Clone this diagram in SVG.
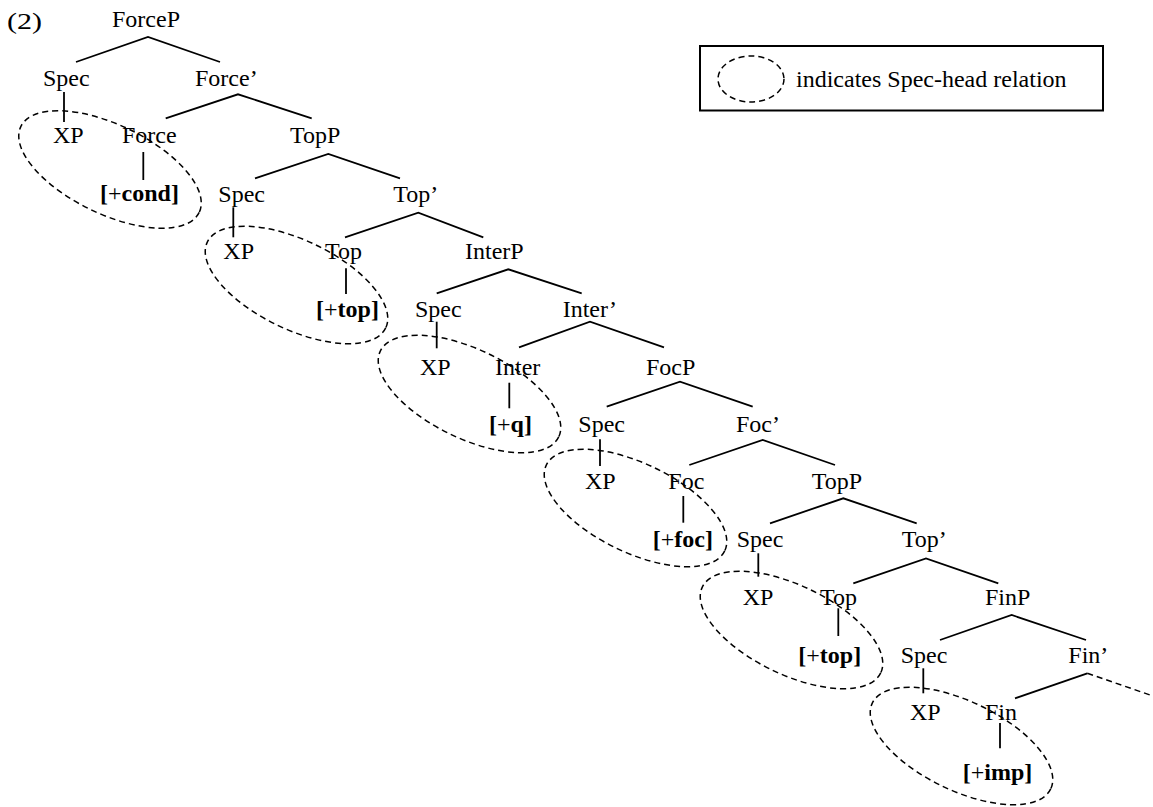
<svg xmlns="http://www.w3.org/2000/svg" width="1153" height="807" viewBox="0 0 1153 807">
<style>
text{font-family:"Liberation Serif","Times New Roman",serif;font-size:24px;fill:#000}
.b{font-weight:bold}
.l{stroke:#000;stroke-width:1.8;fill:none}
.d{stroke:#000;stroke-width:1.5;fill:none;stroke-dasharray:6 4}
.box{stroke:#000;stroke-width:2;fill:none}
</style>
<rect width="1153" height="807" fill="#fff"/>
<text x="7" y="29" font-size="25" textLength="35" lengthAdjust="spacingAndGlyphs">(2)</text>
<g id="connectors">
<polyline class="l" points="76,62 148,37 220,62"/>
<line class="l" x1="64" y1="92" x2="64" y2="122"/>
<polyline class="l" points="165.7,118.3 238,94.3 311.7,118.3"/>
<line class="l" x1="143.3" y1="152" x2="143.3" y2="180"/>
<polyline class="l" points="255,178.3 328.3,154 400,178.3"/>
<line class="l" x1="233.3" y1="207.3" x2="233.3" y2="237.3"/>
<polyline class="l" points="345,237.3 418.3,212.7 483.3,237.3"/>
<line class="l" x1="346" y1="268.3" x2="346" y2="294"/>
<polyline class="l" points="436.7,293.3 508.3,269.3 581.7,293.3"/>
<line class="l" x1="436.7" y1="321.7" x2="436.7" y2="348.3"/>
<polyline class="l" points="519,347.3 590,321.7 664,347.3"/>
<line class="l" x1="509.3" y1="382.7" x2="509.3" y2="408.3"/>
<polyline class="l" points="606.7,406.7 680,381.7 752.7,406.7"/>
<line class="l" x1="600" y1="439.3" x2="600" y2="466"/>
<polyline class="l" points="689.3,465 762.7,440 835,465"/>
<line class="l" x1="683.3" y1="496" x2="683.3" y2="522.7"/>
<polyline class="l" points="770,523.3 843.3,498.3 916.7,523.3"/>
<line class="l" x1="758.3" y1="553.3" x2="758.3" y2="576.7"/>
<polyline class="l" points="853.3,583.3 926,558.5 998.3,583.3"/>
<line class="l" x1="838.3" y1="608.3" x2="838.3" y2="636"/>
<polyline class="l" points="940,640 1011.7,615 1086,640"/>
<line class="l" x1="923.3" y1="668.3" x2="923.3" y2="693.3"/>
<polyline class="l" points="1015,698.3 1087.3,673.3"/>
<line class="d" x1="1087.3" y1="673.3" x2="1153" y2="696"/>
<line class="l" x1="1000" y1="723" x2="1000" y2="748.3"/>
</g>
<g id="relations">
<ellipse class="d" cx="110" cy="169.5" rx="99" ry="44.5" transform="rotate(25.7 110 169.5)"/>
<ellipse class="d" cx="296.5" cy="285" rx="99" ry="44.5" transform="rotate(25.7 296.5 285)"/>
<ellipse class="d" cx="469.5" cy="394" rx="99" ry="44.5" transform="rotate(25.7 469.5 394)"/>
<ellipse class="d" cx="635.5" cy="508" rx="99" ry="44.5" transform="rotate(25.7 635.5 508)"/>
<ellipse class="d" cx="791.5" cy="630" rx="99" ry="44.5" transform="rotate(25.7 791.5 630)"/>
<ellipse class="d" cx="961.5" cy="746" rx="99" ry="44.5" transform="rotate(25.7 961.5 746)"/>
</g>
<g id="n-ForceP"><text x="112" y="27">ForceP</text></g>
<g id="n-Spec0"><text x="43" y="86">Spec</text></g>
<g id="n-ForceBar"><text x="195" y="86">Force’</text></g>
<g id="n-XP0"><text x="53" y="143">XP</text></g>
<g id="n-Force"><text x="122" y="143">Force</text></g>
<g id="n-cond"><text x="100" y="201"><tspan class="b">[</tspan>+<tspan class="b">cond]</tspan></text></g>
<g id="n-TopP1"><text x="290" y="143">TopP</text></g>
<g id="n-Spec1"><text x="218.3" y="201.5">Spec</text></g>
<g id="n-TopBar1"><text x="393.3" y="201.5">Top’</text></g>
<g id="n-XP1"><text x="223.3" y="259">XP</text></g>
<g id="n-Top1"><text x="325" y="259">Top</text></g>
<g id="n-top1"><text x="316" y="316.7"><tspan class="b">[</tspan>+<tspan class="b">top]</tspan></text></g>
<g id="n-InterP"><text x="465" y="259">InterP</text></g>
<g id="n-Spec2"><text x="415" y="316.7">Spec</text></g>
<g id="n-InterBar"><text x="562.7" y="316.7">Inter’</text></g>
<g id="n-XP2"><text x="420" y="375">XP</text></g>
<g id="n-Inter"><text x="495" y="375">Inter</text></g>
<g id="n-q"><text x="489" y="431.7"><tspan class="b">[</tspan>+<tspan class="b">q]</tspan></text></g>
<g id="n-FocP"><text x="646" y="375">FocP</text></g>
<g id="n-Spec3"><text x="578.3" y="431.7">Spec</text></g>
<g id="n-FocBar"><text x="736" y="431.7">Foc’</text></g>
<g id="n-XP3"><text x="585" y="489">XP</text></g>
<g id="n-Foc"><text x="668.3" y="489">Foc</text></g>
<g id="n-foc"><text x="652.7" y="546.7"><tspan class="b">[</tspan>+<tspan class="b">foc]</tspan></text></g>
<g id="n-TopP4"><text x="811.7" y="489">TopP</text></g>
<g id="n-Spec4"><text x="736.7" y="546.7">Spec</text></g>
<g id="n-TopBar4"><text x="901.7" y="546.7">Top’</text></g>
<g id="n-XP4"><text x="742.7" y="605">XP</text></g>
<g id="n-Top4"><text x="820" y="605">Top</text></g>
<g id="n-top4"><text x="798.3" y="663"><tspan class="b">[</tspan>+<tspan class="b">top]</tspan></text></g>
<g id="n-FinP"><text x="985" y="605">FinP</text></g>
<g id="n-Spec5"><text x="900.7" y="663">Spec</text></g>
<g id="n-FinBar"><text x="1068.3" y="663">Fin’</text></g>
<g id="n-XP5"><text x="910" y="720">XP</text></g>
<g id="n-Fin"><text x="985" y="720">Fin</text></g>
<g id="n-imp"><text x="962.7" y="780"><tspan class="b">[</tspan>+<tspan class="b">imp]</tspan></text></g>
<g id="legend">
<rect class="box" x="700" y="46" width="403" height="64.5"/>
<ellipse class="d" cx="751" cy="79" rx="33" ry="23"/>
<text x="796" y="87">indicates Spec-head relation</text>
</g>
</svg>
